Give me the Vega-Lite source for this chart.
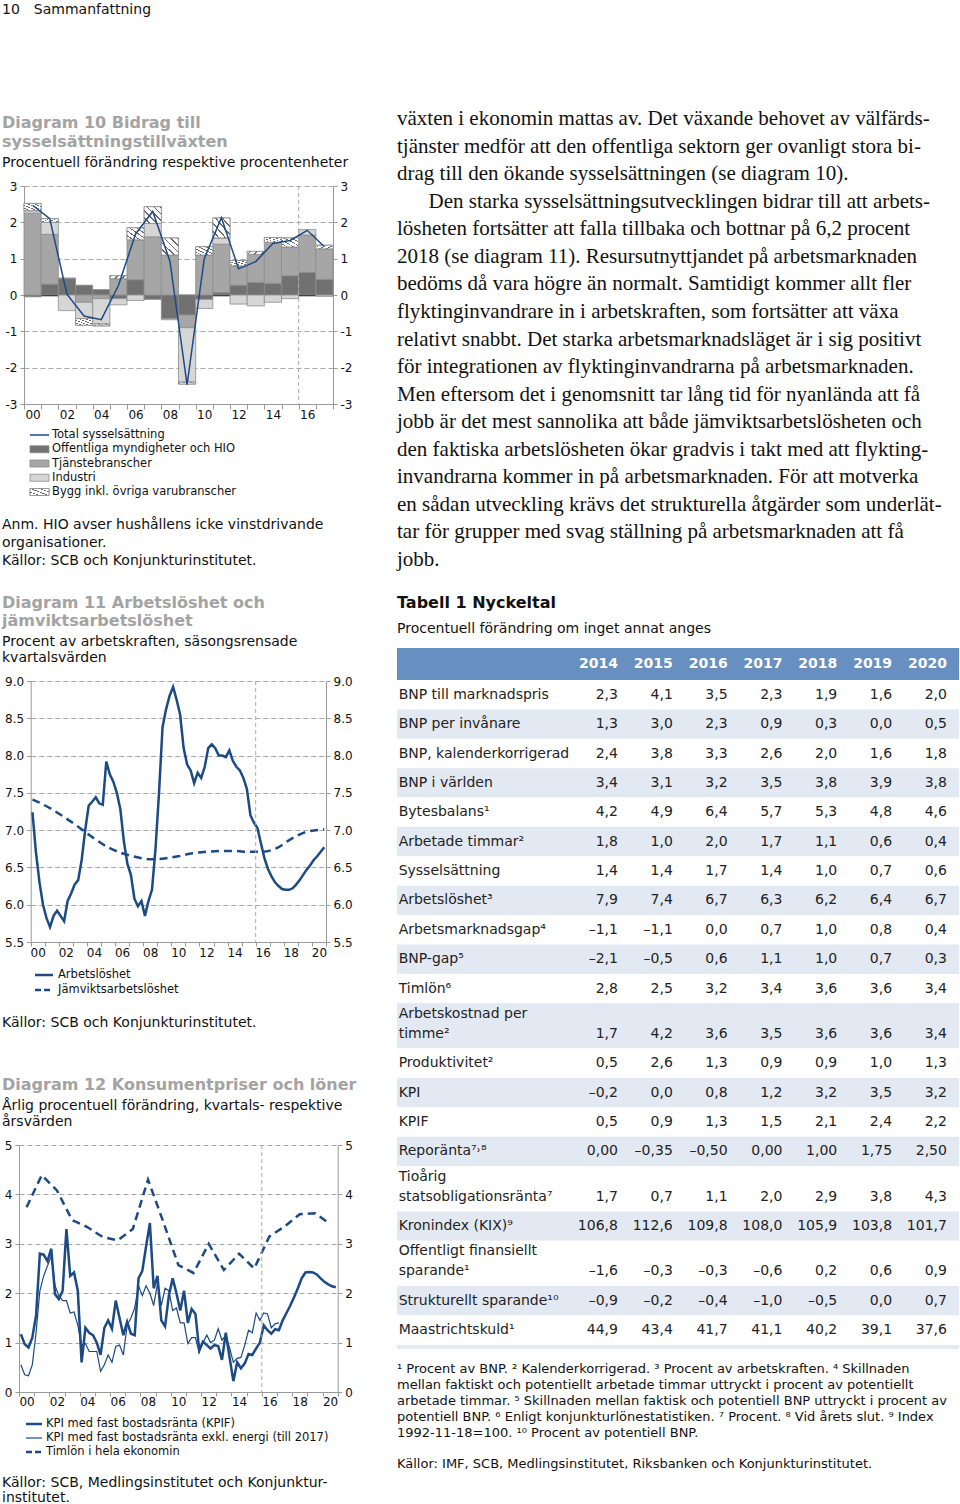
{
"$schema": "https://vega.github.io/schema/vega-lite/v6.json",
"background": "white",
"padding": {"left": 2, "top": 3, "right": 0, "bottom": 0},
"title": {"text": "10\u2003Sammanfattning", "anchor": "start", "frame": "bounds", "fontSize": 14, "fontWeight": "normal", "color": "#111", "offset": 91},
"config": {
  "font": "DejaVu Sans",
  "view": {"stroke": null},
  "title": {"font": "DejaVu Sans", "subtitleFont": "DejaVu Sans"},
  "text": {"font": "DejaVu Sans"},
  "axis": {"labelFont": "DejaVu Sans", "labelFontSize": 12, "labelColor": "#111", "domainColor": "#9a9a9a", "tickColor": "#9a9a9a", "gridColor": "#a8a8a8", "gridDash": [5, 3], "gridWidth": 1, "labelOverlap": false}
},
"datasets": {
  "years": [
    {"yr":"00"},{"yr":"01"},{"yr":"02"},{"yr":"03"},{"yr":"04"},{"yr":"05"},{"yr":"06"},{"yr":"07"},{"yr":"08"},{"yr":"09"},{"yr":"10"},
    {"yr":"11"},{"yr":"12"},{"yr":"13"},{"yr":"14"},{"yr":"15"},{"yr":"16"},{"yr":"17"},{"yr":"18"},{"yr":"19"},{"yr":"20"}
  ],
  "d10": [
    {"yr":"00","k":"off","v":-0.05},{"yr":"00","k":"tj","v":2.25},{"yr":"00","k":"ind","v":0.07},{"yr":"00","k":"bygg","v":0.2},
    {"yr":"01","k":"off","v":0.3},{"yr":"01","k":"tj","v":1.37},{"yr":"01","k":"ind","v":0.33},{"yr":"01","k":"bygg","v":0.1},
    {"yr":"02","k":"off","v":0.45},{"yr":"02","k":"tj","v":0.02},{"yr":"02","k":"ind","v":-0.43},
    {"yr":"03","k":"off","v":0.27},{"yr":"03","k":"tj","v":-0.2},{"yr":"03","k":"ind","v":-0.45},{"yr":"03","k":"bygg","v":-0.18},
    {"yr":"04","k":"off","v":0.15},{"yr":"04","k":"tj","v":-0.1},{"yr":"04","k":"ind","v":-0.7},{"yr":"04","k":"bygg","v":-0.05},
    {"yr":"05","k":"off","v":-0.1},{"yr":"05","k":"tj","v":0.45},{"yr":"05","k":"ind","v":-0.17},{"yr":"05","k":"bygg","v":0.08},
    {"yr":"06","k":"off","v":0.42},{"yr":"06","k":"tj","v":1.1},{"yr":"06","k":"ind","v":-0.15},{"yr":"06","k":"bygg","v":0.33},
    {"yr":"07","k":"off","v":-0.12},{"yr":"07","k":"tj","v":1.6},{"yr":"07","k":"ind","v":0.37},{"yr":"07","k":"bygg","v":0.46},
    {"yr":"08","k":"off","v":-0.65},{"yr":"08","k":"tj","v":1.1},{"yr":"08","k":"ind","v":-0.03},{"yr":"08","k":"bygg","v":0.47},
    {"yr":"09","k":"off","v":-0.55},{"yr":"09","k":"tj","v":-0.35},{"yr":"09","k":"ind","v":-1.5},{"yr":"09","k":"bygg","v":-0.05},
    {"yr":"10","k":"off","v":-0.12},{"yr":"10","k":"tj","v":1.1},{"yr":"10","k":"ind","v":-0.25},{"yr":"10","k":"bygg","v":0.23},
    {"yr":"11","k":"off","v":0.07},{"yr":"11","k":"tj","v":1.33},{"yr":"11","k":"ind","v":0.17},{"yr":"11","k":"bygg","v":0.55},
    {"yr":"12","k":"off","v":0.27},{"yr":"12","k":"tj","v":0.53},{"yr":"12","k":"ind","v":-0.25},{"yr":"12","k":"bygg","v":0.15},
    {"yr":"13","k":"off","v":0.35},{"yr":"13","k":"tj","v":0.77},{"yr":"13","k":"ind","v":-0.3},{"yr":"13","k":"bygg","v":0.08},
    {"yr":"14","k":"off","v":0.32},{"yr":"14","k":"tj","v":1.13},{"yr":"14","k":"ind","v":-0.2},{"yr":"14","k":"bygg","v":0.13},
    {"yr":"15","k":"off","v":0.53},{"yr":"15","k":"tj","v":0.79},{"yr":"15","k":"ind","v":-0.1},{"yr":"15","k":"bygg","v":0.25},
    {"yr":"16","k":"off","v":0.62},{"yr":"16","k":"tj","v":1.03},{"yr":"16","k":"ind","v":0.15},
    {"yr":"17","k":"off","v":0.43},{"yr":"17","k":"tj","v":0.84},{"yr":"17","k":"ind","v":-0.03},{"yr":"17","k":"bygg","v":0.1}
  ],
  "d10t": [
    {"yr":"00","tot":2.47},{"yr":"01","tot":2.1},{"yr":"02","tot":0.02},{"yr":"03","tot":-0.58},{"yr":"04","tot":-0.68},{"yr":"05","tot":0.26},
    {"yr":"06","tot":1.68},{"yr":"07","tot":2.3},{"yr":"08","tot":0.93},{"yr":"09","tot":-2.47},{"yr":"10","tot":1.0},{"yr":"11","tot":2.13},
    {"yr":"12","tot":0.72},{"yr":"13","tot":0.92},{"yr":"14","tot":1.42},{"yr":"15","tot":1.5},{"yr":"16","tot":1.78},{"yr":"17","tot":1.33}
  ],
  "d11": [
    {"t":2000.125,"s":"A","v":7.24},{"t":2000.375,"s":"A","v":6.7},{"t":2000.625,"s":"A","v":6.3},{"t":2000.875,"s":"A","v":6.0},
    {"t":2001.125,"s":"A","v":5.82},{"t":2001.375,"s":"A","v":5.7},{"t":2001.625,"s":"A","v":5.85},{"t":2001.875,"s":"A","v":5.92},
    {"t":2002.125,"s":"A","v":5.85},{"t":2002.375,"s":"A","v":5.78},{"t":2002.625,"s":"A","v":6.05},{"t":2002.875,"s":"A","v":6.15},
    {"t":2003.125,"s":"A","v":6.27},{"t":2003.375,"s":"A","v":6.33},{"t":2003.625,"s":"A","v":6.6},{"t":2003.875,"s":"A","v":7.0},
    {"t":2004.125,"s":"A","v":7.33},{"t":2004.375,"s":"A","v":7.38},{"t":2004.625,"s":"A","v":7.44},{"t":2004.875,"s":"A","v":7.36},
    {"t":2005.125,"s":"A","v":7.34},{"t":2005.375,"s":"A","v":7.92},{"t":2005.625,"s":"A","v":7.75},{"t":2005.875,"s":"A","v":7.65},
    {"t":2006.125,"s":"A","v":7.5},{"t":2006.375,"s":"A","v":7.28},{"t":2006.625,"s":"A","v":6.85},{"t":2006.875,"s":"A","v":6.55},
    {"t":2007.125,"s":"A","v":6.4},{"t":2007.375,"s":"A","v":6.08},{"t":2007.625,"s":"A","v":5.98},{"t":2007.875,"s":"A","v":6.05},
    {"t":2008.125,"s":"A","v":5.85},{"t":2008.375,"s":"A","v":6.05},{"t":2008.625,"s":"A","v":6.2},{"t":2008.875,"s":"A","v":6.75},
    {"t":2009.125,"s":"A","v":7.5},{"t":2009.375,"s":"A","v":8.38},{"t":2009.625,"s":"A","v":8.62},{"t":2009.875,"s":"A","v":8.8},
    {"t":2010.125,"s":"A","v":8.92},{"t":2010.375,"s":"A","v":8.75},{"t":2010.625,"s":"A","v":8.55},{"t":2010.875,"s":"A","v":8.1},
    {"t":2011.125,"s":"A","v":7.88},{"t":2011.375,"s":"A","v":7.8},{"t":2011.625,"s":"A","v":7.63},{"t":2011.875,"s":"A","v":7.77},
    {"t":2012.125,"s":"A","v":7.7},{"t":2012.375,"s":"A","v":7.85},{"t":2012.625,"s":"A","v":8.1},{"t":2012.875,"s":"A","v":8.15},
    {"t":2013.125,"s":"A","v":8.1},{"t":2013.375,"s":"A","v":8.0},{"t":2013.625,"s":"A","v":8.0},{"t":2013.875,"s":"A","v":7.98},
    {"t":2014.125,"s":"A","v":8.07},{"t":2014.375,"s":"A","v":7.93},{"t":2014.625,"s":"A","v":7.85},{"t":2014.875,"s":"A","v":7.8},
    {"t":2015.125,"s":"A","v":7.7},{"t":2015.375,"s":"A","v":7.55},{"t":2015.625,"s":"A","v":7.2},{"t":2015.875,"s":"A","v":7.1},
    {"t":2016.125,"s":"A","v":7.03},{"t":2016.375,"s":"A","v":6.82},{"t":2016.625,"s":"A","v":6.62},{"t":2016.875,"s":"A","v":6.48},
    {"t":2017.125,"s":"A","v":6.38},{"t":2017.375,"s":"A","v":6.3},{"t":2017.625,"s":"A","v":6.25},{"t":2017.875,"s":"A","v":6.21},
    {"t":2018.125,"s":"A","v":6.2},{"t":2018.375,"s":"A","v":6.2},{"t":2018.625,"s":"A","v":6.22},{"t":2018.875,"s":"A","v":6.27},
    {"t":2019.125,"s":"A","v":6.33},{"t":2019.375,"s":"A","v":6.4},{"t":2019.625,"s":"A","v":6.47},{"t":2019.875,"s":"A","v":6.53},
    {"t":2020.125,"s":"A","v":6.6},{"t":2020.375,"s":"A","v":6.65},{"t":2020.625,"s":"A","v":6.71},{"t":2020.875,"s":"A","v":6.77},
    {"t":2000.125,"s":"J","v":7.41},{"t":2000.5,"s":"J","v":7.38},{"t":2001.5,"s":"J","v":7.28},{"t":2002.5,"s":"J","v":7.16},
    {"t":2003.5,"s":"J","v":7.03},{"t":2004.5,"s":"J","v":6.89},{"t":2005.5,"s":"J","v":6.77},{"t":2006.5,"s":"J","v":6.69},
    {"t":2007.5,"s":"J","v":6.64},{"t":2008.5,"s":"J","v":6.61},{"t":2009.5,"s":"J","v":6.62},{"t":2010.5,"s":"J","v":6.65},
    {"t":2011.5,"s":"J","v":6.69},{"t":2012.5,"s":"J","v":6.71},{"t":2013.5,"s":"J","v":6.72},{"t":2014.5,"s":"J","v":6.72},
    {"t":2015.5,"s":"J","v":6.71},{"t":2016.5,"s":"J","v":6.71},{"t":2017.5,"s":"J","v":6.76},{"t":2018.5,"s":"J","v":6.88},
    {"t":2019.5,"s":"J","v":6.97},{"t":2020.875,"s":"J","v":7.01}
  ],
  "d12": [
    {"t":2000.125,"s":"K","v":1.17},{"t":2000.375,"s":"K","v":0.97},{"t":2000.625,"s":"K","v":0.9},{"t":2000.875,"s":"K","v":1.1},
    {"t":2001.125,"s":"K","v":1.55},{"t":2001.375,"s":"K","v":2.8},{"t":2001.625,"s":"K","v":2.78},{"t":2001.875,"s":"K","v":2.65},
    {"t":2002.125,"s":"K","v":2.9},{"t":2002.375,"s":"K","v":1.98},{"t":2002.625,"s":"K","v":1.88},{"t":2002.875,"s":"K","v":2.05},
    {"t":2003.125,"s":"K","v":3.3},{"t":2003.375,"s":"K","v":2.35},{"t":2003.625,"s":"K","v":2.42},{"t":2003.875,"s":"K","v":2.05},
    {"t":2004.125,"s":"K","v":0.6},{"t":2004.375,"s":"K","v":1.3},{"t":2004.625,"s":"K","v":1.2},{"t":2004.875,"s":"K","v":1.15},
    {"t":2005.125,"s":"K","v":1.0},{"t":2005.375,"s":"K","v":0.75},{"t":2005.625,"s":"K","v":1.3},{"t":2005.875,"s":"K","v":1.45},
    {"t":2006.125,"s":"K","v":1.28},{"t":2006.375,"s":"K","v":1.85},{"t":2006.625,"s":"K","v":1.5},{"t":2006.875,"s":"K","v":1.15},
    {"t":2007.125,"s":"K","v":1.42},{"t":2007.375,"s":"K","v":1.18},{"t":2007.625,"s":"K","v":1.15},{"t":2007.875,"s":"K","v":2.3},
    {"t":2008.125,"s":"K","v":2.45},{"t":2008.375,"s":"K","v":2.95},{"t":2008.625,"s":"K","v":3.42},{"t":2008.875,"s":"K","v":2.1},
    {"t":2009.125,"s":"K","v":2.35},{"t":2009.375,"s":"K","v":1.45},{"t":2009.625,"s":"K","v":1.33},{"t":2009.875,"s":"K","v":1.95},
    {"t":2010.125,"s":"K","v":2.3},{"t":2010.375,"s":"K","v":2.0},{"t":2010.625,"s":"K","v":1.65},{"t":2010.875,"s":"K","v":2.05},
    {"t":2011.125,"s":"K","v":1.4},{"t":2011.375,"s":"K","v":1.68},{"t":2011.625,"s":"K","v":1.58},{"t":2011.875,"s":"K","v":0.85},
    {"t":2012.125,"s":"K","v":1.02},{"t":2012.375,"s":"K","v":0.95},{"t":2012.625,"s":"K","v":0.88},{"t":2012.875,"s":"K","v":0.95},
    {"t":2013.125,"s":"K","v":0.93},{"t":2013.375,"s":"K","v":0.65},{"t":2013.625,"s":"K","v":1.2},{"t":2013.875,"s":"K","v":0.7},
    {"t":2014.125,"s":"K","v":0.22},{"t":2014.375,"s":"K","v":0.6},{"t":2014.625,"s":"K","v":0.48},{"t":2014.875,"s":"K","v":0.58},
    {"t":2015.125,"s":"K","v":0.77},{"t":2015.375,"s":"K","v":0.75},{"t":2015.625,"s":"K","v":0.88},{"t":2015.875,"s":"K","v":1.0},
    {"t":2016.125,"s":"K","v":1.35},{"t":2016.375,"s":"K","v":1.25},{"t":2016.625,"s":"K","v":1.18},{"t":2016.875,"s":"K","v":1.27},
    {"t":2017.125,"s":"K","v":1.25},{"t":2017.375,"s":"K","v":1.45},{"t":2017.625,"s":"K","v":1.6},{"t":2017.875,"s":"K","v":1.75},
    {"t":2018.125,"s":"K","v":1.92},{"t":2018.375,"s":"K","v":2.1},{"t":2018.625,"s":"K","v":2.3},{"t":2018.875,"s":"K","v":2.42},
    {"t":2019.125,"s":"K","v":2.43},{"t":2019.375,"s":"K","v":2.42},{"t":2019.625,"s":"K","v":2.38},{"t":2019.875,"s":"K","v":2.3},
    {"t":2020.125,"s":"K","v":2.23},{"t":2020.375,"s":"K","v":2.18},{"t":2020.625,"s":"K","v":2.14},{"t":2020.875,"s":"K","v":2.12},
    {"t":2000.125,"s":"E","v":0.55},{"t":2000.375,"s":"E","v":0.35},{"t":2000.625,"s":"E","v":0.33},{"t":2000.875,"s":"E","v":0.55},
    {"t":2001.125,"s":"E","v":1.2},{"t":2001.375,"s":"E","v":2.05},{"t":2001.625,"s":"E","v":2.35},{"t":2001.875,"s":"E","v":2.55},
    {"t":2002.125,"s":"E","v":2.75},{"t":2002.375,"s":"E","v":2.15},{"t":2002.625,"s":"E","v":1.95},{"t":2002.875,"s":"E","v":1.85},
    {"t":2003.125,"s":"E","v":1.85},{"t":2003.375,"s":"E","v":1.6},{"t":2003.625,"s":"E","v":1.62},{"t":2003.875,"s":"E","v":1.35},
    {"t":2004.125,"s":"E","v":0.95},{"t":2004.375,"s":"E","v":0.98},{"t":2004.625,"s":"E","v":0.82},{"t":2004.875,"s":"E","v":0.82},
    {"t":2005.125,"s":"E","v":0.82},{"t":2005.375,"s":"E","v":0.42},{"t":2005.625,"s":"E","v":0.55},{"t":2005.875,"s":"E","v":0.75},
    {"t":2006.125,"s":"E","v":0.6},{"t":2006.375,"s":"E","v":0.92},{"t":2006.625,"s":"E","v":0.95},{"t":2006.875,"s":"E","v":0.75},
    {"t":2007.125,"s":"E","v":1.35},{"t":2007.375,"s":"E","v":1.5},{"t":2007.625,"s":"E","v":1.7},{"t":2007.875,"s":"E","v":2.15},
    {"t":2008.125,"s":"E","v":1.95},{"t":2008.375,"s":"E","v":2.15},{"t":2008.625,"s":"E","v":2.0},{"t":2008.875,"s":"E","v":1.75},
    {"t":2009.125,"s":"E","v":2.2},{"t":2009.375,"s":"E","v":1.75},{"t":2009.625,"s":"E","v":2.1},{"t":2009.875,"s":"E","v":2.05},
    {"t":2010.125,"s":"E","v":1.65},{"t":2010.375,"s":"E","v":1.7},{"t":2010.625,"s":"E","v":1.4},{"t":2010.875,"s":"E","v":1.4},
    {"t":2011.125,"s":"E","v":0.98},{"t":2011.375,"s":"E","v":1.1},{"t":2011.625,"s":"E","v":1.1},{"t":2011.875,"s":"E","v":0.8},
    {"t":2012.125,"s":"E","v":1.0},{"t":2012.375,"s":"E","v":1.15},{"t":2012.625,"s":"E","v":1.0},{"t":2012.875,"s":"E","v":1.05},
    {"t":2013.125,"s":"E","v":1.28},{"t":2013.375,"s":"E","v":1.05},{"t":2013.625,"s":"E","v":1.15},{"t":2013.875,"s":"E","v":0.9},
    {"t":2014.125,"s":"E","v":0.6},{"t":2014.375,"s":"E","v":0.68},{"t":2014.625,"s":"E","v":0.7},{"t":2014.875,"s":"E","v":0.95},
    {"t":2015.125,"s":"E","v":1.25},{"t":2015.375,"s":"E","v":1.2},{"t":2015.625,"s":"E","v":1.6},{"t":2015.875,"s":"E","v":1.45},
    {"t":2016.125,"s":"E","v":1.6},{"t":2016.375,"s":"E","v":1.58},{"t":2016.625,"s":"E","v":1.3},{"t":2016.875,"s":"E","v":1.38},
    {"t":2017.125,"s":"E","v":1.4},
    {"t":2000.5,"s":"W","v":3.74},{"t":2001.5,"s":"W","v":4.39},{"t":2002.5,"s":"W","v":4.08},{"t":2003.5,"s":"W","v":3.48},
    {"t":2004.5,"s":"W","v":3.34},{"t":2005.5,"s":"W","v":3.14},{"t":2006.5,"s":"W","v":3.07},{"t":2007.5,"s":"W","v":3.3},
    {"t":2008.5,"s":"W","v":4.3},{"t":2009.5,"s":"W","v":3.45},{"t":2010.5,"s":"W","v":2.57},{"t":2011.5,"s":"W","v":2.41},
    {"t":2012.5,"s":"W","v":3.0},{"t":2013.5,"s":"W","v":2.47},{"t":2014.5,"s":"W","v":2.8},{"t":2015.5,"s":"W","v":2.5},
    {"t":2016.5,"s":"W","v":3.15},{"t":2017.5,"s":"W","v":3.35},{"t":2018.5,"s":"W","v":3.6},{"t":2019.5,"s":"W","v":3.62},
    {"t":2020.5,"s":"W","v":3.4}
  ],
  "tab": [
    {"kind":"header","label":[""],"2014":"2014","2015":"2015","2016":"2016","2017":"2017","2018":"2018","2019":"2019","2020":"2020"},
    {"kind":"body","label":["BNP till marknadspris"],"2014":"2,3","2015":"4,1","2016":"3,5","2017":"2,3","2018":"1,9","2019":"1,6","2020":"2,0"},
    {"kind":"body","label":["BNP per invånare"],"2014":"1,3","2015":"3,0","2016":"2,3","2017":"0,9","2018":"0,3","2019":"0,0","2020":"0,5"},
    {"kind":"body","label":["BNP, kalenderkorrigerad"],"2014":"2,4","2015":"3,8","2016":"3,3","2017":"2,6","2018":"2,0","2019":"1,6","2020":"1,8"},
    {"kind":"body","label":["BNP i världen"],"2014":"3,4","2015":"3,1","2016":"3,2","2017":"3,5","2018":"3,8","2019":"3,9","2020":"3,8"},
    {"kind":"body","label":["Bytesbalans¹"],"2014":"4,2","2015":"4,9","2016":"6,4","2017":"5,7","2018":"5,3","2019":"4,8","2020":"4,6"},
    {"kind":"body","label":["Arbetade timmar²"],"2014":"1,8","2015":"1,0","2016":"2,0","2017":"1,7","2018":"1,1","2019":"0,6","2020":"0,4"},
    {"kind":"body","label":["Sysselsättning"],"2014":"1,4","2015":"1,4","2016":"1,7","2017":"1,4","2018":"1,0","2019":"0,7","2020":"0,6"},
    {"kind":"body","label":["Arbetslöshet³"],"2014":"7,9","2015":"7,4","2016":"6,7","2017":"6,3","2018":"6,2","2019":"6,4","2020":"6,7"},
    {"kind":"body","label":["Arbetsmarknadsgap⁴"],"2014":"–1,1","2015":"–1,1","2016":"0,0","2017":"0,7","2018":"1,0","2019":"0,8","2020":"0,4"},
    {"kind":"body","label":["BNP-gap⁵"],"2014":"–2,1","2015":"–0,5","2016":"0,6","2017":"1,1","2018":"1,0","2019":"0,7","2020":"0,3"},
    {"kind":"body","label":["Timlön⁶"],"2014":"2,8","2015":"2,5","2016":"3,2","2017":"3,4","2018":"3,6","2019":"3,6","2020":"3,4"},
    {"kind":"body","label":["Arbetskostnad per","timme²"],"2014":"1,7","2015":"4,2","2016":"3,6","2017":"3,5","2018":"3,6","2019":"3,6","2020":"3,4"},
    {"kind":"body","label":["Produktivitet²"],"2014":"0,5","2015":"2,6","2016":"1,3","2017":"0,9","2018":"0,9","2019":"1,0","2020":"1,3"},
    {"kind":"body","label":["KPI"],"2014":"–0,2","2015":"0,0","2016":"0,8","2017":"1,2","2018":"3,2","2019":"3,5","2020":"3,2"},
    {"kind":"body","label":["KPIF"],"2014":"0,5","2015":"0,9","2016":"1,3","2017":"1,5","2018":"2,1","2019":"2,4","2020":"2,2"},
    {"kind":"body","label":["Reporänta⁷˒⁸"],"2014":"0,00","2015":"–0,35","2016":"–0,50","2017":"0,00","2018":"1,00","2019":"1,75","2020":"2,50"},
    {"kind":"body","label":["Tioårig","statsobligationsränta⁷"],"2014":"1,7","2015":"0,7","2016":"1,1","2017":"2,0","2018":"2,9","2019":"3,8","2020":"4,3"},
    {"kind":"body","label":["Kronindex (KIX)⁹"],"2014":"106,8","2015":"112,6","2016":"109,8","2017":"108,0","2018":"105,9","2019":"103,8","2020":"101,7"},
    {"kind":"body","label":["Offentligt finansiellt","sparande¹"],"2014":"–1,6","2015":"–0,3","2016":"–0,3","2017":"–0,6","2018":"0,2","2019":"0,6","2020":"0,9"},
    {"kind":"body","label":["Strukturellt sparande¹⁰"],"2014":"–0,9","2015":"–0,2","2016":"–0,4","2017":"–1,0","2018":"–0,5","2019":"0,0","2020":"0,7"},
    {"kind":"body","label":["Maastrichtskuld¹"],"2014":"44,9","2015":"43,4","2016":"41,7","2017":"41,1","2018":"40,2","2019":"39,1","2020":"37,6"},
    {"kind":"footer","label":[""]}
  ]
},
"hconcat": [
  {
    "spacing": 27,
    "vconcat": [
      {
        "spacing": 9,
        "vconcat": [
          {
            "width": 314, "height": 218,
            "title": {"text": ["Diagram 10 Bidrag till", "sysselsättningstillväxten"], "subtitle": "Procentuell förändring respektive procentenheter", "anchor": "start", "frame": "group", "dx": -17, "fontSize": 16, "fontWeight": "bold", "color": "#a3a3a3", "lineHeight": 19, "subtitleFontSize": 14, "subtitleColor": "#111", "subtitlePadding": 6, "offset": 10},
            "layer": [
              {
                "data": {"name": "d10"},
                "transform": [
                  {"calculate": "indexof(['off','tj','ind','bygg'], datum.k)", "as": "o"},
                  {"stack": "v", "groupby": ["yr"], "sort": [{"field": "o", "order": "ascending"}], "as": ["v0", "v1"], "offset": "zero"}
                ],
                "mark": {"type": "bar", "stroke": "#8c8c8c", "strokeWidth": 0.8},
                "encoding": {
                  "x": {"field": "yr", "type": "ordinal", "scale": {"paddingInner": 0, "paddingOuter": 0, "range": [5, 314]}, "axis": {"title": null, "tickBand": "extent", "labelAngle": 0, "labelExpr": "toNumber(datum.value) % 2 == 0 ? datum.value : ''", "tickSize": 5, "labelPadding": 0, "grid": false}},
                  "y": {"field": "v0", "type": "quantitative", "scale": {"domain": [-3, 3], "nice": false, "zero": false}, "axis": {"title": null, "values": [-3, -2, -1, 0, 1, 2, 3], "labelExpr": "replace(datum.label, '\u2212', '-')", "grid": true, "gridColor": {"condition": {"test": "datum.value === 0", "value": "#111"}, "value": "#a8a8a8"}, "gridDash": {"condition": {"test": "datum.value === 0", "value": []}, "value": [5, 3]}, "gridWidth": {"condition": {"test": "datum.value === 0", "value": 1.5}, "value": 1}, "tickSize": 4, "labelPadding": 3, "offset": -5}},
                  "y2": {"field": "v1"},
                  "color": {"field": "k", "type": "nominal", "scale": {"domain": ["off", "tj", "ind", "bygg"], "range": ["#717171", "#a6a6a6", "#d6d6d6", "#ffffff"]}, "legend": null}
                }
              },
              {
                "data": {"name": "d10"},
                "transform": [
                  {"calculate": "indexof(['off','tj','ind','bygg'], datum.k)", "as": "o"},
                  {"stack": "v", "groupby": ["yr"], "sort": [{"field": "o", "order": "ascending"}], "as": ["v0", "v1"], "offset": "zero"},
                  {"filter": "datum.k == 'bygg'"}
                ],
                "mark": {"type": "bar", "stroke": "#8c8c8c", "strokeWidth": 0.8, "fill": {"gradient": "linear", "x1": 0, "y1": 1, "x2": 1, "y2": 0, "stops": [{"offset": 0, "color": "#ffffff"}, {"offset": 0.15, "color": "#ffffff"}, {"offset": 0.15, "color": "#6a6a6a"}, {"offset": 0.2, "color": "#6a6a6a"}, {"offset": 0.2, "color": "#ffffff"}, {"offset": 0.35, "color": "#ffffff"}, {"offset": 0.35, "color": "#6a6a6a"}, {"offset": 0.4, "color": "#6a6a6a"}, {"offset": 0.4, "color": "#ffffff"}, {"offset": 0.55, "color": "#ffffff"}, {"offset": 0.55, "color": "#6a6a6a"}, {"offset": 0.6, "color": "#6a6a6a"}, {"offset": 0.6, "color": "#ffffff"}, {"offset": 0.75, "color": "#ffffff"}, {"offset": 0.75, "color": "#6a6a6a"}, {"offset": 0.8, "color": "#6a6a6a"}, {"offset": 0.8, "color": "#ffffff"}, {"offset": 0.95, "color": "#ffffff"}, {"offset": 0.95, "color": "#6a6a6a"}, {"offset": 1, "color": "#6a6a6a"}]}},
                "encoding": {
                  "x": {"field": "yr", "type": "ordinal"},
                  "y": {"field": "v0", "type": "quantitative", "scale": {"domain": [-3, 3], "nice": false, "zero": false}, "axis": null},
                  "y2": {"field": "v1"}
                }
              },
              {
                "data": {"values": [{"yr": "16"}]},
                "mark": {"type": "rule", "color": "#a8a8a8", "strokeDash": [4, 3]},
                "encoding": {"x": {"field": "yr", "type": "ordinal", "bandPosition": 0}}
              },
              {
                "data": {"name": "d10t"},
                "mark": {"type": "line", "color": "#1c4a85", "strokeWidth": 1.5},
                "encoding": {
                  "x": {"field": "yr", "type": "ordinal"},
                  "y": {"field": "tot", "type": "quantitative", "scale": {"domain": [-3, 3], "nice": false, "zero": false}, "axis": {"title": null, "orient": "right", "values": [-3, -2, -1, 0, 1, 2, 3], "labelExpr": "replace(datum.label, '\u2212', '-')", "grid": false, "tickSize": 4, "labelPadding": 3}}
                }
              }
            ],
            "resolve": {"axis": {"y": "independent"}}
          },
          {
            "width": 330, "height": 57,
            "data": {"values": [{"k": "tot", "item": "Total sysselsättning"}, {"k": "off", "item": "Offentliga myndigheter och HIO"}, {"k": "tj", "item": "Tjänstebranscher"}, {"k": "ind", "item": "Industri"}, {"k": "bygg", "item": "Bygg inkl. övriga varubranscher"}]},
            "encoding": {"y": {"field": "item", "type": "nominal", "scale": {"type": "point", "padding": 0, "domain": ["Total sysselsättning", "Offentliga myndigheter och HIO", "Tjänstebranscher", "Industri", "Bygg inkl. övriga varubranscher"]}, "axis": null}},
            "layer": [
              {"transform": [{"filter": "datum.k == 'tot'"}], "mark": {"type": "rule", "color": "#1c4a85", "strokeWidth": 1.5}, "encoding": {"x": {"datum": 11, "type": "quantitative", "scale": {"domain": [0, 330], "nice": false, "zero": false}, "axis": null}, "x2": {"datum": 30}}},
              {"transform": [{"filter": "datum.k != 'tot'"}], "mark": {"type": "bar", "height": 7, "stroke": "#8c8c8c", "strokeWidth": 0.8}, "encoding": {"x": {"datum": 11, "type": "quantitative"}, "x2": {"datum": 30}, "color": {"field": "k", "type": "nominal", "scale": {"domain": ["off", "tj", "ind", "bygg"], "range": ["#717171", "#a6a6a6", "#d6d6d6", "#ffffff"]}, "legend": null}}},
              {"transform": [{"filter": "datum.k == 'bygg'"}], "mark": {"type": "bar", "height": 7, "stroke": "#8c8c8c", "strokeWidth": 0.8, "fill": {"gradient": "linear", "x1": 0, "y1": 1, "x2": 1, "y2": 0, "stops": [{"offset": 0, "color": "#ffffff"}, {"offset": 0.22, "color": "#ffffff"}, {"offset": 0.22, "color": "#6a6a6a"}, {"offset": 0.28, "color": "#6a6a6a"}, {"offset": 0.28, "color": "#ffffff"}, {"offset": 0.47, "color": "#ffffff"}, {"offset": 0.47, "color": "#6a6a6a"}, {"offset": 0.53, "color": "#6a6a6a"}, {"offset": 0.53, "color": "#ffffff"}, {"offset": 0.72, "color": "#ffffff"}, {"offset": 0.72, "color": "#6a6a6a"}, {"offset": 0.78, "color": "#6a6a6a"}, {"offset": 0.78, "color": "#ffffff"}, {"offset": 1, "color": "#ffffff"}]}}, "encoding": {"x": {"datum": 11, "type": "quantitative"}, "x2": {"datum": 30}}},
              {"mark": {"type": "text", "align": "left", "baseline": "middle", "fontSize": 11.5, "color": "#111"}, "encoding": {"x": {"datum": 33, "type": "quantitative"}, "text": {"field": "item"}}}
            ],
            "title": {"text": ["Anm. HIO avser hushållens icke vinstdrivande", "organisationer.", "Källor: SCB och Konjunkturinstitutet."], "orient": "bottom", "anchor": "start", "frame": "group", "dx": -17, "fontSize": 14, "fontWeight": "normal", "color": "#111", "lineHeight": 18, "offset": 20}
          }
        ]
      },
      {
        "spacing": 11,
        "vconcat": [
          {
            "width": 307, "height": 261,
            "title": {"text": ["Diagram 11 Arbetslöshet och", "jämviktsarbetslöshet"], "subtitle": ["Procent av arbetskraften, säsongsrensade", "kvartalsvärden"], "anchor": "start", "frame": "group", "dx": -17, "fontSize": 16, "fontWeight": "bold", "color": "#a3a3a3", "lineHeight": 18, "subtitleFontSize": 14, "subtitleColor": "#111", "subtitleLineHeight": 16, "subtitlePadding": 6, "offset": 10},
            "layer": [
              {
                "data": {"name": "d11"},
                "transform": [{"filter": "datum.s == 'A'"}],
                "mark": {"type": "line", "color": "#1c4a85", "strokeWidth": 2.5},
                "encoding": {
                  "x": {"field": "t", "type": "quantitative", "scale": {"domain": [2000, 2021], "nice": false, "zero": false, "range": [11.7, 307]}, "axis": null},
                  "y": {"field": "v", "type": "quantitative", "scale": {"domain": [5.5, 9], "nice": false, "zero": false}, "axis": {"title": null, "values": [5.5, 6, 6.5, 7, 7.5, 8, 8.5, 9], "format": ".1f", "grid": true, "tickSize": 4, "labelPadding": 3, "offset": -11.7}}
                }
              },
              {
                "data": {"name": "d11"},
                "transform": [{"filter": "datum.s == 'J'"}],
                "mark": {"type": "line", "color": "#1c4a85", "strokeWidth": 2.5, "strokeDash": [8, 5], "interpolate": "monotone"},
                "encoding": {
                  "x": {"field": "t", "type": "quantitative", "scale": {"domain": [2000, 2021], "nice": false, "zero": false, "range": [11.7, 307]}, "axis": null},
                  "y": {"field": "v", "type": "quantitative", "scale": {"domain": [5.5, 9], "nice": false, "zero": false}, "axis": {"title": null, "orient": "right", "values": [5.5, 6, 6.5, 7, 7.5, 8, 8.5, 9], "format": ".1f", "grid": false, "tickSize": 4, "labelPadding": 3}}
                }
              },
              {
                "data": {"values": [{}]},
                "mark": {"type": "rule", "color": "#a8a8a8", "strokeDash": [4, 3]},
                "encoding": {"x": {"datum": 2016, "type": "quantitative", "scale": {"domain": [2000, 2021], "nice": false, "zero": false, "range": [11.7, 307]}, "axis": null}}
              },
              {
                "data": {"name": "years"},
                "mark": {"type": "rule", "strokeOpacity": 0},
                "encoding": {"x": {"field": "yr", "type": "ordinal", "scale": {"paddingInner": 0, "paddingOuter": 0, "range": [11.7, 307]}, "axis": {"title": null, "tickBand": "extent", "labelAngle": 0, "labelExpr": "toNumber(datum.value) % 2 == 0 ? datum.value : ''", "tickSize": 4, "labelPadding": 1, "grid": false}}}
              }
            ],
            "resolve": {"scale": {"x": "independent"}, "axis": {"x": "independent", "y": "independent"}}
          },
          {
            "width": 330, "height": 15,
            "data": {"values": [{"k": "A", "item": "Arbetslöshet"}, {"k": "J", "item": "Jämviktsarbetslöshet"}]},
            "encoding": {"y": {"field": "item", "type": "nominal", "scale": {"type": "point", "padding": 0, "domain": ["Arbetslöshet", "Jämviktsarbetslöshet"]}, "axis": null}},
            "layer": [
              {"transform": [{"filter": "datum.k == 'A'"}], "mark": {"type": "rule", "color": "#1c4a85", "strokeWidth": 2.5}, "encoding": {"x": {"datum": 16, "type": "quantitative", "scale": {"domain": [0, 330], "nice": false, "zero": false}, "axis": null}, "x2": {"datum": 34}}},
              {"transform": [{"filter": "datum.k == 'J'"}], "mark": {"type": "rule", "color": "#1c4a85", "strokeWidth": 2.5, "strokeDash": [6, 3]}, "encoding": {"x": {"datum": 16, "type": "quantitative"}, "x2": {"datum": 34}}},
              {"mark": {"type": "text", "align": "left", "baseline": "middle", "fontSize": 11.5, "color": "#111"}, "encoding": {"x": {"datum": 39, "type": "quantitative"}, "text": {"field": "item"}}}
            ],
            "title": {"text": ["Källor: SCB och Konjunkturinstitutet.", "\u00a0"], "orient": "bottom", "anchor": "start", "frame": "group", "dx": -17, "fontSize": 14, "fontWeight": "normal", "color": "#111", "lineHeight": 20, "offset": 20}
          }
        ]
      },
      {
        "spacing": 11,
        "vconcat": [
          {
            "width": 318.7, "height": 247,
            "title": {"text": "Diagram 12 Konsumentpriser och löner", "subtitle": ["Årlig procentuell förändring, kvartals- respektive", "årsvärden"], "anchor": "start", "frame": "group", "dx": -17, "fontSize": 16, "fontWeight": "bold", "color": "#a3a3a3", "subtitleFontSize": 14, "subtitleColor": "#111", "subtitleLineHeight": 16, "subtitlePadding": 6, "offset": 10},
            "layer": [
              {
                "data": {"name": "d12"},
                "transform": [{"filter": "datum.s == 'E'"}],
                "mark": {"type": "line", "color": "#1c4a85", "strokeWidth": 1.2},
                "encoding": {
                  "x": {"field": "t", "type": "quantitative", "scale": {"domain": [2000, 2021], "nice": false, "zero": false, "range": [0, 318.7]}, "axis": null},
                  "y": {"field": "v", "type": "quantitative", "scale": {"domain": [0, 5], "nice": false, "zero": false}, "axis": {"title": null, "values": [0, 1, 2, 3, 4, 5], "grid": true, "tickSize": 4, "labelPadding": 3}}
                }
              },
              {
                "data": {"name": "d12"},
                "transform": [{"filter": "datum.s == 'K'"}],
                "mark": {"type": "line", "color": "#1c4a85", "strokeWidth": 2.5},
                "encoding": {
                  "x": {"field": "t", "type": "quantitative", "scale": {"domain": [2000, 2021], "nice": false, "zero": false, "range": [0, 318.7]}, "axis": null},
                  "y": {"field": "v", "type": "quantitative", "scale": {"domain": [0, 5], "nice": false, "zero": false}, "axis": {"title": null, "orient": "right", "values": [0, 1, 2, 3, 4, 5], "grid": false, "tickSize": 4, "labelPadding": 3}}
                }
              },
              {
                "data": {"name": "d12"},
                "transform": [{"filter": "datum.s == 'W'"}],
                "mark": {"type": "line", "color": "#1c4a85", "strokeWidth": 2.5, "strokeDash": [8, 5]},
                "encoding": {
                  "x": {"field": "t", "type": "quantitative", "scale": {"domain": [2000, 2021], "nice": false, "zero": false, "range": [0, 318.7]}, "axis": null},
                  "y": {"field": "v", "type": "quantitative", "scale": {"domain": [0, 5], "nice": false, "zero": false}, "axis": null}
                }
              },
              {
                "data": {"values": [{}]},
                "mark": {"type": "rule", "color": "#a8a8a8", "strokeDash": [4, 3]},
                "encoding": {"x": {"datum": 2016, "type": "quantitative", "scale": {"domain": [2000, 2021], "nice": false, "zero": false, "range": [0, 318.7]}, "axis": null}}
              },
              {
                "data": {"name": "years"},
                "mark": {"type": "rule", "strokeOpacity": 0},
                "encoding": {"x": {"field": "yr", "type": "ordinal", "scale": {"paddingInner": 0, "paddingOuter": 0, "range": [0, 318.7]}, "axis": {"title": null, "tickBand": "extent", "labelAngle": 0, "labelExpr": "toNumber(datum.value) % 2 == 0 ? datum.value : ''", "tickSize": 4, "labelPadding": 0, "grid": false}}}
              }
            ],
            "resolve": {"scale": {"x": "independent"}, "axis": {"x": "independent", "y": "independent"}}
          },
          {
            "width": 330, "height": 28,
            "data": {"values": [{"k": "K", "item": "KPI med fast bostadsränta (KPIF)"}, {"k": "E", "item": "KPI med fast bostadsränta exkl. energi (till 2017)"}, {"k": "W", "item": "Timlön i hela ekonomin"}]},
            "encoding": {"y": {"field": "item", "type": "nominal", "scale": {"type": "point", "padding": 0, "domain": ["KPI med fast bostadsränta (KPIF)", "KPI med fast bostadsränta exkl. energi (till 2017)", "Timlön i hela ekonomin"]}, "axis": null}},
            "layer": [
              {"transform": [{"filter": "datum.k == 'K'"}], "mark": {"type": "rule", "color": "#1c4a85", "strokeWidth": 2.5}, "encoding": {"x": {"datum": 7, "type": "quantitative", "scale": {"domain": [0, 330], "nice": false, "zero": false}, "axis": null}, "x2": {"datum": 23}}},
              {"transform": [{"filter": "datum.k == 'E'"}], "mark": {"type": "rule", "color": "#1c4a85", "strokeWidth": 1.2}, "encoding": {"x": {"datum": 7, "type": "quantitative"}, "x2": {"datum": 23}}},
              {"transform": [{"filter": "datum.k == 'W'"}], "mark": {"type": "rule", "color": "#1c4a85", "strokeWidth": 2.5, "strokeDash": [6, 3]}, "encoding": {"x": {"datum": 7, "type": "quantitative"}, "x2": {"datum": 23}}},
              {"mark": {"type": "text", "align": "left", "baseline": "middle", "fontSize": 11.5, "color": "#111"}, "encoding": {"x": {"datum": 27, "type": "quantitative"}, "text": {"field": "item"}}}
            ],
            "title": {"text": ["Källor: SCB, Medlingsinstitutet och Konjunktur-", "institutet."], "orient": "bottom", "anchor": "start", "frame": "group", "dx": -17, "fontSize": 14, "fontWeight": "normal", "color": "#111", "lineHeight": 15, "offset": 18}
          }
        ]
      }
    ]
  },
  {
    "spacing": 25,
    "vconcat": [
      {
        "width": 562, "height": 374,
        "data": {"values": [
          {"rad": "växten i ekonomin mattas av. Det växande behovet av välfärds-"},
          {"rad": "tjänster medför att den offentliga sektorn ger ovanligt stora bi-"},
          {"rad": "drag till den ökande sysselsättningen (se diagram 10)."},
          {"rad": "\u200b\u2003\u2002Den starka sysselsättningsutvecklingen bidrar till att arbets-"},
          {"rad": "lösheten fortsätter att falla tillbaka och bottnar på 6,2 procent"},
          {"rad": "2018 (se diagram 11). Resursutnyttjandet på arbetsmarknaden"},
          {"rad": "bedöms då vara högre än normalt. Samtidigt kommer allt fler"},
          {"rad": "flyktinginvandrare in i arbetskraften, som fortsätter att växa"},
          {"rad": "relativt snabbt. Det starka arbetsmarknadsläget är i sig positivt"},
          {"rad": "för integrationen av flyktinginvandrarna på arbetsmarknaden."},
          {"rad": "Men eftersom det i genomsnitt tar lång tid för nyanlända att få"},
          {"rad": "jobb är det mest sannolika att både jämviktsarbetslösheten och"},
          {"rad": "den faktiska arbetslösheten ökar gradvis i takt med att flykting-"},
          {"rad": "invandrarna kommer in på arbetsmarknaden. För att motverka"},
          {"rad": "en sådan utveckling krävs det strukturella åtgärder som underlät-"},
          {"rad": "tar för grupper med svag ställning på arbetsmarknaden att få"},
          {"rad": "jobb."}
        ]},
        "mark": {"type": "text", "align": "left", "baseline": "middle", "font": "Liberation Serif", "fontSize": 21, "color": "#111"},
        "encoding": {
          "y": {"field": "rad", "type": "nominal", "sort": null, "scale": {"type": "point", "padding": 0, "range": [-67, 374]}, "axis": null},
          "x": {"datum": 0, "type": "quantitative", "scale": {"domain": [0, 562], "nice": false, "zero": false}, "axis": null},
          "text": {"field": "rad"}
        }
      },
      {
        "spacing": 14,
        "vconcat": [
          {
            "width": 562, "height": 701,
            "title": {"text": "Tabell 1 Nyckeltal", "subtitle": "Procentuell förändring om inget annat anges", "anchor": "start", "frame": "bounds", "fontSize": 16, "fontWeight": "bold", "color": "#111", "subtitleFontSize": 14, "subtitleColor": "#111", "subtitlePadding": 11, "offset": 12},
            "data": {"name": "tab"},
            "transform": [
              {"calculate": "datum.kind == 'header' ? 1.09 : (datum.kind == 'footer' ? 0.14 : (length(datum.label) > 1 ? 1.54 : 1))", "as": "h"},
              {"window": [{"op": "sum", "field": "h", "as": "bot"}, {"op": "row_number", "as": "idx"}], "frame": [null, 0]},
              {"calculate": "datum.bot - datum.h", "as": "top"},
              {"calculate": "datum.bot - (datum.kind == 'header' ? 0.545 : 0.5)", "as": "mid"},
              {"calculate": "datum.mid - (length(datum.label) - 1) * 0.68", "as": "y1"},
              {"calculate": "datum.label[0]", "as": "l1"},
              {"calculate": "length(datum.label) > 1 ? datum.label[1] : ''", "as": "l2"},
              {"calculate": "datum.kind == 'header' ? 'header' : (datum.idx % 2 == 1 ? 'light' : 'none')", "as": "shade"}
            ],
            "layer": [
              {
                "mark": {"type": "rect"},
                "encoding": {
                  "x": {"datum": 2009.97, "type": "quantitative", "scale": {"domain": [2009.97, 2020.22], "nice": false, "zero": false}, "axis": null},
                  "x2": {"datum": 2020.22},
                  "y": {"field": "top", "type": "quantitative", "scale": {"domain": [0, 23.85], "reverse": true, "nice": false, "zero": false}, "axis": null},
                  "y2": {"field": "bot"},
                  "fill": {"field": "shade", "type": "nominal", "scale": {"domain": ["header", "light", "none"], "range": ["#678fc0", "#e2e9f2", "#ffffff"]}, "legend": null}
                }
              },
              {
                "transform": [{"filter": "datum.kind == 'body'"}],
                "mark": {"type": "text", "align": "left", "baseline": "middle", "fontSize": 14, "color": "#222"},
                "encoding": {"x": {"datum": 2010.0, "type": "quantitative"}, "y": {"field": "y1", "type": "quantitative"}, "text": {"field": "l1"}}
              },
              {
                "transform": [{"filter": "datum.kind == 'body' && datum.l2 != ''"}],
                "mark": {"type": "text", "align": "left", "baseline": "middle", "fontSize": 14, "color": "#222"},
                "encoding": {"x": {"datum": 2010.0, "type": "quantitative"}, "y": {"field": "mid", "type": "quantitative"}, "text": {"field": "l2"}}
              },
              {
                "transform": [{"filter": "datum.kind == 'body'"}, {"fold": ["2014", "2015", "2016", "2017", "2018", "2019", "2020"], "as": ["yr", "val"]}, {"calculate": "toNumber(datum.yr)", "as": "xn"}],
                "mark": {"type": "text", "align": "right", "baseline": "middle", "fontSize": 14, "color": "#222"},
                "encoding": {"x": {"field": "xn", "type": "quantitative"}, "y": {"field": "mid", "type": "quantitative"}, "text": {"field": "val"}}
              },
              {
                "transform": [{"filter": "datum.kind == 'header'"}, {"fold": ["2014", "2015", "2016", "2017", "2018", "2019", "2020"], "as": ["yr", "val"]}, {"calculate": "toNumber(datum.yr)", "as": "xn"}],
                "mark": {"type": "text", "align": "right", "baseline": "middle", "fontSize": 14, "fontWeight": "bold", "color": "white"},
                "encoding": {"x": {"field": "xn", "type": "quantitative"}, "y": {"field": "mid", "type": "quantitative"}, "text": {"field": "val"}}
              }
            ]
          },
          {
            "width": 562, "height": 64,
            "data": {"values": [
              {"rad": "¹ Procent av BNP. ² Kalenderkorrigerad. ³ Procent av arbetskraften. ⁴ Skillnaden"},
              {"rad": "mellan faktiskt och potentiellt arbetade timmar uttryckt i procent av potentiellt"},
              {"rad": "arbetade timmar. ⁵ Skillnaden mellan faktisk och potentiell BNP uttryckt i procent av"},
              {"rad": "potentiell BNP. ⁶ Enligt konjunkturlönestatistiken. ⁷ Procent. ⁸ Vid årets slut. ⁹ Index"},
              {"rad": "1992-11-18=100. ¹⁰ Procent av potentiell BNP."}
            ]},
            "mark": {"type": "text", "align": "left", "baseline": "middle", "fontSize": 13, "color": "#111"},
            "encoding": {
              "y": {"field": "rad", "type": "nominal", "sort": null, "scale": {"type": "point", "padding": 0}, "axis": null},
              "x": {"datum": 0, "type": "quantitative", "scale": {"domain": [0, 562], "nice": false, "zero": false}, "axis": null},
              "text": {"field": "rad"}
            },
            "title": {"text": "Källor: IMF, SCB, Medlingsinstitutet, Riksbanken och Konjunkturinstitutet.", "orient": "bottom", "anchor": "start", "frame": "bounds", "fontSize": 13, "fontWeight": "normal", "color": "#111", "offset": 18}
          }
        ]
      }
    ]
  }
],
"spacing": 40
}
